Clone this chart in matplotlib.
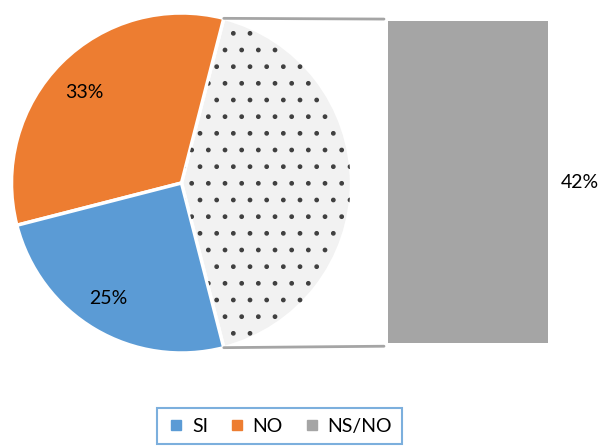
import matplotlib
matplotlib.use("Agg")
import matplotlib.pyplot as plt
from matplotlib.patches import ConnectionPatch, Wedge
from matplotlib.lines import Line2D
import numpy as np

plt.rcParams['font.family'] = ['Lato', 'DejaVu Sans']

categories = ["SI", "NO", "NS/NO"]
values = [25, 33, 42]
labels = ["25%", "33%", "42%"]
colors = ["#5B9BD5", "#ED7D31", "#A5A5A5"]

W, H = 609, 447
fig = plt.figure(figsize=(W / 100, H / 100), dpi=100)

# Pie axes
cx, cy, r = 181.5, 183, 170
ax1 = fig.add_axes([(cx - r) / W, (H - cy - r) / H, 2 * r / W, 2 * r / H])

order = [2, 1, 0]
pie_vals = [values[i] for i in order]
start = -values[2] / 100 * 360 / 2
wedges, _ = ax1.pie(pie_vals, startangle=start, counterclock=True, radius=1,
                    colors=["#F2F2F2", colors[1], colors[0]],
                    wedgeprops=dict(edgecolor='white', linewidth=2.5))
ax1.set_xlim(-1, 1)
ax1.set_ylim(-1, 1)
ax1.set_aspect('equal')
ax1.axis('off')

w0 = wedges[0]
hw = Wedge((0, 0), 0.995, w0.theta1 + 0.8, w0.theta2 - 0.8, facecolor='none',
           edgecolor='#404040', hatch='.', linewidth=0)
ax1.add_patch(hw)

ax1.text((84 - cx) / r, (cy - 92) / r, labels[1], ha='center', va='center', fontsize=14)
ax1.text((108 - cx) / r, (cy - 299) / r, labels[0], ha='center', va='center', fontsize=14)

# Bar axes
bx0, bx1, by0, by1 = 388, 548, 21, 343
ax2 = fig.add_axes([bx0 / W, (H - by1) / H, (bx1 - bx0) / W, (by1 - by0) / H])
ax2.bar([0], [values[2]], width=1, color=colors[2])
ax2.set_xlim(-0.5, 0.5)
ax2.set_ylim(0, values[2])
ax2.axis('off')
ax2.text(1.2, 0.5, labels[2], transform=ax2.transAxes, ha='center', va='center',
         fontsize=14, clip_on=False)

t1 = np.deg2rad(w0.theta2)
t2 = np.deg2rad(w0.theta1)
for th, yv in [(t1, values[2] * 1.006), (t2, -values[2] * 0.01)]:
    con = ConnectionPatch(xyA=(np.cos(th), np.sin(th)), coordsA=ax1.transData,
                          xyB=(-0.525, yv), coordsB=ax2.transData,
                          color='#A5A5A5', linewidth=2)
    fig.add_artist(con)

handles = [Line2D([], [], marker='s', linestyle='none', markersize=7,
                  markerfacecolor=c, markeredgecolor=c) for c in colors]
leg = fig.legend(handles, categories, loc='upper left',
                 bbox_to_anchor=(157 / W, 1 - 408 / H), ncol=3, fontsize=14,
                 frameon=True, fancybox=False, handletextpad=0.3, columnspacing=1.0,
                 borderpad=0.5, handlelength=1.0, borderaxespad=0)
leg.get_frame().set_edgecolor('#5B9BD5')
leg.get_frame().set_linewidth(1.5)

fig.savefig("out.png", dpi=100)
